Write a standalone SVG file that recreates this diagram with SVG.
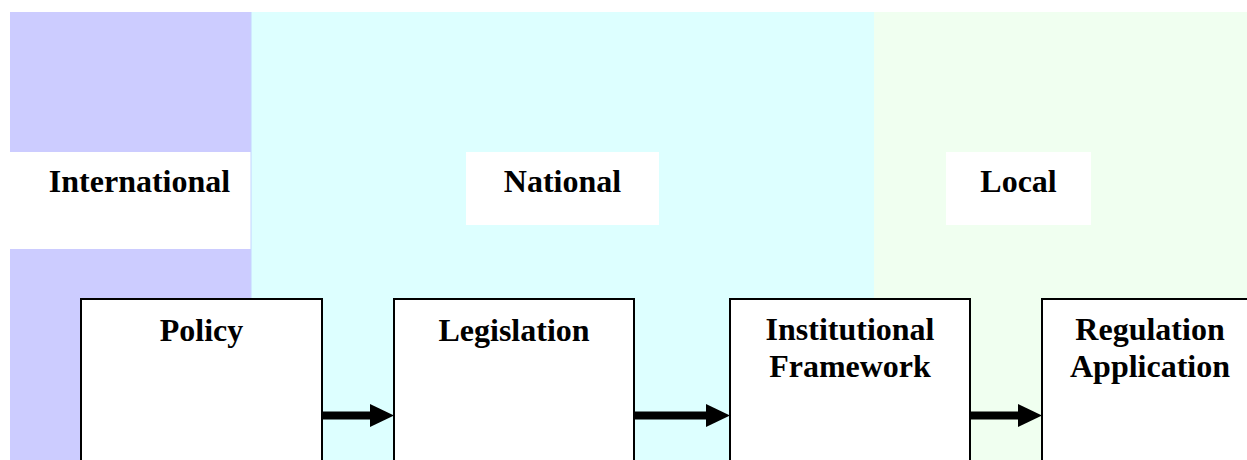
<svg xmlns="http://www.w3.org/2000/svg" width="1247" height="460" viewBox="0 0 1247 460">
  <style>
    .lbl { font-family: "Liberation Serif", "Times New Roman", serif; font-weight: bold; font-size: 32px; fill: #000; text-anchor: middle; }
    .box { fill: #fff; stroke: #000; stroke-width: 2; }
    .band-label { fill: #fff; }
    .conn { stroke: #000; stroke-width: 8; fill: none; marker-end: url(#head); }
  </style>
  <defs>
    <marker id="head" markerUnits="userSpaceOnUse" markerWidth="24" markerHeight="23" refX="1" refY="11.5" orient="auto">
      <path d="M0,0 L24,11.5 L0,23 Z" fill="#000"/>
    </marker>
  </defs>

  <rect width="1247" height="460" fill="#fff"/>

  <!-- jurisdiction bands -->
  <g id="band-international">
    <rect x="10" y="12" width="241" height="448" fill="#CCCCFF"/>
    <rect class="band-label" x="10" y="152" width="241" height="97"/>
    <text class="lbl" x="139.5" y="192">International</text>
  </g>
  <g id="band-national">
    <rect x="251" y="12" width="623" height="448" fill="#DDFFFF"/>
    <line x1="251" y1="12" x2="251" y2="460" stroke="#C4D4FF" stroke-width="1"/>
    <rect class="band-label" x="466" y="152" width="193" height="73"/>
    <text class="lbl" x="562.5" y="192">National</text>
  </g>
  <g id="band-local">
    <rect x="874" y="12" width="373" height="448" fill="#F0FFF0"/>
    <rect class="band-label" x="946" y="152" width="145" height="73"/>
    <text class="lbl" x="1018.5" y="192">Local</text>
  </g>

  <!-- process steps -->
  <g id="node-policy">
    <rect class="box" x="81" y="299" width="241" height="200"/>
    <text class="lbl" x="201.5" y="341">Policy</text>
  </g>
  <g id="node-legislation">
    <rect class="box" x="394" y="299" width="240" height="200"/>
    <text class="lbl" x="514" y="341">Legislation</text>
  </g>
  <g id="node-institutional">
    <rect class="box" x="730" y="299" width="240" height="200"/>
    <text class="lbl" x="850" y="340">Institutional</text>
    <text class="lbl" x="850" y="377">Framework</text>
  </g>
  <g id="node-regulation">
    <rect class="box" x="1042" y="299" width="240" height="200"/>
    <text class="lbl" x="1150" y="340">Regulation</text>
    <text class="lbl" x="1150" y="377">Application</text>
  </g>

  <!-- connectors -->
  <g id="connectors">
    <line class="conn" x1="323" y1="415.5" x2="371" y2="415.5"/>
    <line class="conn" x1="635" y1="415.5" x2="707" y2="415.5"/>
    <line class="conn" x1="971" y1="415.5" x2="1019" y2="415.5"/>
  </g>
</svg>
